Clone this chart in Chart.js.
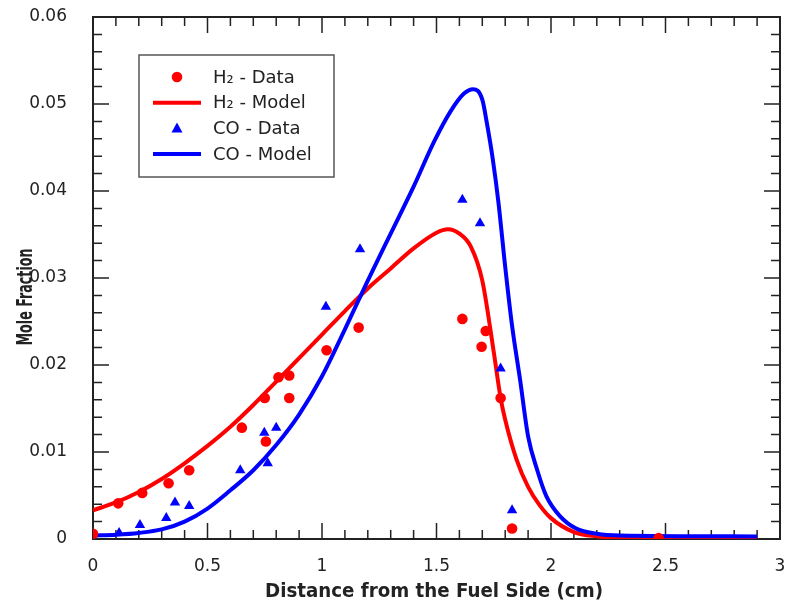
<!DOCTYPE html>
<html>
<head>
<meta charset="utf-8">
<script src="https://cdn.jsdelivr.net/npm/chart.js@4.4.0/dist/chart.umd.min.js"></script>
<style>
  html, body { margin: 0; padding: 0; background: #fff; }
  canvas { display: block; }
</style>
</head>
<body>
<canvas id="chart" width="787" height="601"></canvas>
<script>
// measured points (distance in cm, mole fraction)
const h2DataX = [0, 0.11, 0.215, 0.33, 0.42, 0.65, 0.75, 0.755, 0.81, 0.857, 0.857, 1.02, 1.16, 1.613, 1.697, 1.715, 1.78, 1.83, 2.47];
const h2DataY = [0.0006, 0.0041, 0.0053, 0.0064, 0.0079, 0.0128, 0.0162, 0.0112, 0.0186, 0.0188, 0.0162, 0.0217, 0.0243, 0.0253, 0.0221, 0.0239, 0.0162, 0.0012, 0.0001];

const coDataX = [0.114, 0.205, 0.32, 0.358, 0.42, 0.643, 0.748, 0.763, 0.8, 1.017, 1.166, 1.613, 1.69, 1.78, 1.83];
const coDataY = [0.0007, 0.0016, 0.0024, 0.0042, 0.0038, 0.0079, 0.0122, 0.0087, 0.0128, 0.0267, 0.0333, 0.039, 0.0363, 0.0196, 0.0033];

// model curves
const h2ModelX = [0, 0.1, 0.2, 0.3, 0.4, 0.5, 0.6, 0.7, 0.8, 0.9, 1.0, 1.1, 1.2, 1.3, 1.4, 1.5, 1.55, 1.6, 1.65, 1.7, 1.75, 1.78, 1.8, 1.85, 1.9, 1.95, 2.0, 2.1, 2.2, 2.3, 2.9];
const h2ModelY = [0.0033, 0.0042, 0.0054, 0.0069, 0.0087, 0.0107, 0.0129, 0.0154, 0.0181, 0.0208, 0.0235, 0.0262, 0.0288, 0.0311, 0.0334, 0.0352, 0.0356, 0.0351, 0.0336, 0.0297, 0.0215, 0.0162, 0.0137, 0.0091, 0.006, 0.0039, 0.0024, 0.0008, 0.0003, 0.0001, 0.0001];

const coModelX = [0, 0.1, 0.2, 0.3, 0.4, 0.5, 0.6, 0.7, 0.8, 0.9, 1.0, 1.1, 1.2, 1.3, 1.4, 1.49, 1.56, 1.62, 1.66, 1.7, 1.72, 1.745, 1.77, 1.8, 1.83, 1.865, 1.9, 1.94, 1.98, 2.04, 2.11, 2.2, 2.3, 2.9];
const coModelY = [0.0004, 0.0005, 0.0007, 0.0011, 0.002, 0.0035, 0.0056, 0.0079, 0.0108, 0.0143, 0.0187, 0.0241, 0.0297, 0.0351, 0.0405, 0.0457, 0.0491, 0.0512, 0.0517, 0.0505, 0.0478, 0.0438, 0.0388, 0.0313, 0.0245, 0.0183, 0.0118, 0.0079, 0.0049, 0.0026, 0.0012, 0.0006, 0.0004, 0.0003];

const seriesLabels = ["H\u2082 - Data", "H\u2082 - Model", "CO - Data", "CO - Model"];
const xTitle = "Distance from the Fuel Side (cm)";
const yTitle = "Mole Fraction";

const RED = "#ff0000";
const BLUE = "#0000ff";
const INK = "#222";

const pts = (xs, ys) => xs.map((x, i) => ({ x: x, y: ys[i] }));

const frameAndTicks = {
  id: "frameAndTicks",
  beforeDatasetsDraw(chart) {
    const { ctx, chartArea: a, scales } = chart;
    ctx.save();
    ctx.strokeStyle = INK;
    ctx.lineWidth = 1.5;
    ctx.beginPath();
    for (let i = 0; i <= 30; i++) {
      const px = scales.x.getPixelForValue(i / 10);
      const len = i % 5 === 0 ? 16 : 9;
      ctx.moveTo(px, a.bottom); ctx.lineTo(px, a.bottom - len);
      ctx.moveTo(px, a.top); ctx.lineTo(px, a.top + len);
    }
    for (let i = 0; i <= 30; i++) {
      const py = scales.y.getPixelForValue(i * 0.002);
      const len = i % 5 === 0 ? 16 : 9;
      ctx.moveTo(a.left, py); ctx.lineTo(a.left + len, py);
      ctx.moveTo(a.right, py); ctx.lineTo(a.right - len, py);
    }
    ctx.stroke();
    ctx.lineWidth = 2;
    ctx.strokeRect(a.left, a.top, a.right - a.left, a.bottom - a.top);

    // axis titles
    ctx.fillStyle = INK;
    ctx.font = "bold 20px 'DejaVu Sans'";
    ctx.textAlign = "center";
    ctx.textBaseline = "alphabetic";
    ctx.fillText(xTitle, 434, 597, 338);
    ctx.translate(32, 297);
    ctx.rotate(-Math.PI / 2);
    ctx.font = "bold 22px 'DejaVu Sans'";
    ctx.fillText(yTitle, 0, 0, 97);
    ctx.restore();
  },
  afterDraw(chart) {
    const { ctx } = chart;
    ctx.save();
    ctx.fillStyle = "#fff";
    ctx.fillRect(139, 55, 195, 122);
    ctx.strokeStyle = "#555";
    ctx.lineWidth = 1.5;
    ctx.strokeRect(139, 55, 195, 122);
    ctx.font = "18px 'DejaVu Sans'";
    ctx.textAlign = "left";
    ctx.textBaseline = "middle";
    chart.data.datasets.forEach((ds, i) => {
      const y = 77 + i * 25.7;
      if (ds.showLine) {
        ctx.strokeStyle = ds.borderColor;
        ctx.lineWidth = 4;
        ctx.beginPath();
        ctx.moveTo(153, y); ctx.lineTo(201, y);
        ctx.stroke();
      } else {
        ctx.fillStyle = ds.backgroundColor;
        ctx.beginPath();
        if (ds.pointStyle === "triangle") {
          ctx.moveTo(177, y - 6); ctx.lineTo(182.5, y + 4); ctx.lineTo(171.5, y + 4);
          ctx.closePath();
        } else {
          ctx.arc(177, y, 5.3, 0, Math.PI * 2);
        }
        ctx.fill();
      }
      ctx.fillStyle = INK;
      ctx.fillText(ds.label, 213, y + 1);
    });
    ctx.restore();
  }
};

new Chart(document.getElementById("chart"), {
  type: "scatter",
  data: {
    datasets: [
      {
        label: seriesLabels[0],
        data: pts(h2DataX, h2DataY),
        pointStyle: "circle",
        pointRadius: 5.3,
        pointBorderWidth: 0,
        backgroundColor: RED,
        borderColor: RED,
        order: 1,
      },
      {
        label: seriesLabels[1],
        data: pts(h2ModelX, h2ModelY),
        showLine: true,
        pointRadius: 0,
        borderWidth: 4,
        borderColor: RED,
        backgroundColor: RED,
        cubicInterpolationMode: "monotone",
        order: 3,
      },
      {
        label: seriesLabels[2],
        data: pts(coDataX, coDataY),
        pointStyle: "triangle",
        pointRadius: 6,
        pointBorderWidth: 0,
        backgroundColor: BLUE,
        borderColor: BLUE,
        order: 0,
      },
      {
        label: seriesLabels[3],
        data: pts(coModelX, coModelY),
        showLine: true,
        pointRadius: 0,
        borderWidth: 4,
        borderColor: BLUE,
        backgroundColor: BLUE,
        cubicInterpolationMode: "monotone",
        order: 2,
      },
    ],
  },
  options: {
    responsive: false,
    animation: false,
    devicePixelRatio: 1,
    layout: { padding: { top: 17, right: 7, left: 0, bottom: 0 } },
    plugins: {
      legend: { display: false },
      tooltip: { enabled: false },
    },
    scales: {
      x: {
        type: "linear",
        min: 0,
        max: 3,
        grid: { display: false },
        border: { display: false },
        ticks: {
          stepSize: 0.5,
          padding: 9,
          maxRotation: 0,
          color: INK,
          font: { family: "'DejaVu Sans'", size: 17 },
          callback: (v) => String(v),
        },
        afterFit: (s) => {
          s.height = 62;
          s.paddingLeft = 0;
          s.paddingRight = 0;
        },
      },
      y: {
        min: 0,
        max: 0.06,
        grid: { display: false },
        border: { display: false },
        ticks: {
          stepSize: 0.01,
          padding: 18,
          color: INK,
          font: { family: "'DejaVu Sans'", size: 17 },
        },
        afterFit: (s) => {
          s.width = 93;
          s.paddingTop = 0;
          s.paddingBottom = 0;
        },
      },
    },
  },
  plugins: [frameAndTicks],
});
</script>
</body>
</html>
